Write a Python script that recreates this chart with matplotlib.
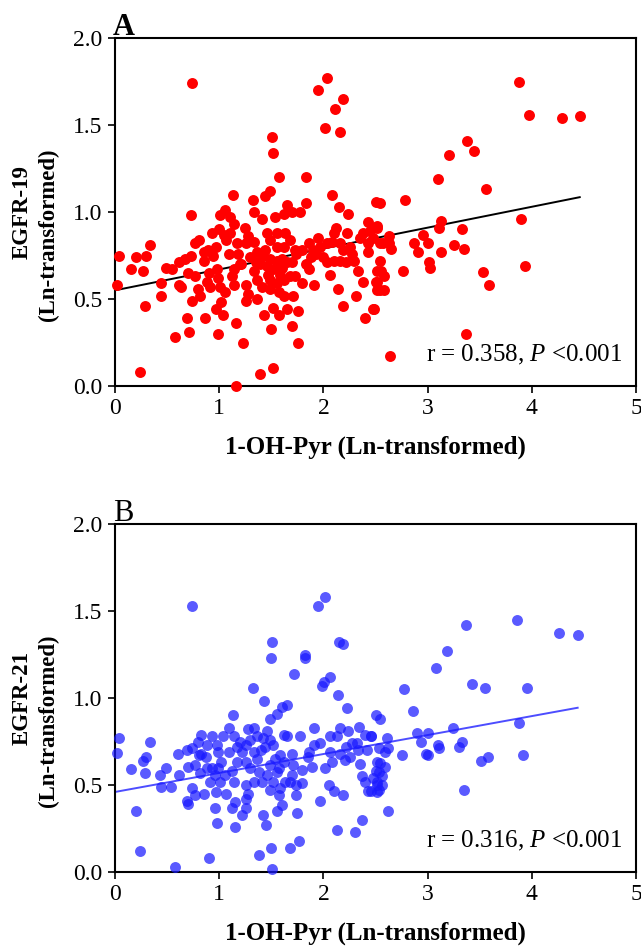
import numpy as np
import matplotlib
matplotlib.use("Agg")
import matplotlib.pyplot as plt

plt.rcParams['font.family'] = ['Liberation Serif', 'DejaVu Serif']
plt.rcParams['mathtext.fontset'] = 'custom'
plt.rcParams['mathtext.rm'] = 'Liberation Serif'
plt.rcParams['mathtext.it'] = 'Liberation Serif:italic'

# panel A: 1-OH-Pyr vs EGFR-19 (both ln-transformed)
egfr19_x = [0.74, 2.03, 1.95, 2.19, 2.11, 2.02, 2.16, 1.51, 1.52, 1.57, 1.83, 1.13, 1.32, 1.44, 1.49,
            2.08, 1.65, 1.83, 2.50, 2.15, 3.88, 3.97, 4.29, 4.46, 3.38, 3.45, 3.21, 3.10, 3.56, 2.54,
            2.78, 3.90, 3.93, 3.53, 3.59, 3.37, 2.64, 3.13, 3.11, 3.33, 2.96, 2.87, 2.91, 3.00, 3.25,
            3.35, 3.13, 3.01, 3.02, 2.76, 2.63, 2.63, 2.65, 2.57, 2.54, 2.54, 2.55, 2.58, 2.50, 2.54,
            2.58, 2.49, 2.51, 2.45,
            0.04, 0.02, 0.20, 0.30, 0.34, 0.15, 0.27, 0.29, 0.24, 0.44, 0.44, 0.49, 0.55, 0.61, 0.61,
            0.58, 0.71, 0.69, 0.74, 0.73, 0.70, 0.67, 0.73, 0.77, 0.81, 0.77, 0.80, 0.82, 0.86, 0.85,
            0.85, 0.89, 0.94, 0.97, 0.90, 0.98, 0.99, 0.88, 0.91, 0.99, 0.97, 1.04, 1.02, 1.01, 1.06,
            1.10, 1.14, 1.07, 1.09, 1.17, 1.18, 1.14, 1.12, 1.01, 1.06, 1.14, 1.16, 1.23, 1.16, 1.25,
            1.33, 1.41, 1.28, 1.26, 1.33, 1.36, 1.30, 1.26, 1.28, 1.26, 1.36, 1.33, 1.36, 1.41, 1.43,
            1.50, 1.39, 1.52, 1.52, 1.57, 1.65, 1.54, 1.62, 1.70, 1.78, 1.46, 1.49, 1.55, 1.63, 1.68,
            1.62, 1.55, 1.42, 1.49, 1.55, 1.60, 1.65, 1.70, 1.74, 1.79, 1.73, 1.46, 1.52, 1.58, 1.49,
            1.55, 1.62, 1.68, 1.73, 1.79, 1.49, 1.57, 1.62, 1.71, 1.70, 1.76, 1.76, 1.86, 1.91, 1.90,
            1.97, 2.03, 2.08, 2.24, 2.10, 2.12, 2.23, 2.16, 2.19, 2.26, 2.29, 2.22, 2.16, 2.10, 2.03,
            2.06, 2.14, 2.19, 2.31, 2.38, 2.40, 2.48, 2.43, 2.51, 2.38, 2.35, 2.43, 2.48, 2.43, 2.51,
            2.51, 2.51, 0.93, 1.00, 1.21, 1.39, 1.44, 1.83, 1.95, 2.00, 2.33, 0.63, 1.05, 1.88,
            1.10, 1.20, 1.35, 1.86, 1.93, 2.27, 1.47, 1.60]
egfr19_y = [1.74, 1.77, 1.70, 1.65, 1.59, 1.48, 1.46, 1.43, 1.34, 1.20, 1.20, 1.10, 1.07, 1.09, 1.12,
            1.10, 1.04, 1.05, 1.06, 1.03, 1.75, 1.56, 1.54, 1.55, 1.41, 1.35, 1.33, 1.19, 1.13, 1.05,
            1.07, 0.96, 0.69, 0.655, 0.58, 0.30, 0.17, 0.95, 0.91, 0.90, 0.87, 0.82, 0.77, 0.82, 0.81,
            0.79, 0.77, 0.71, 0.68, 0.66, 0.86, 0.82, 0.79, 0.82, 0.82, 0.72, 0.66, 0.63, 0.60, 0.55,
            0.55, 0.44, 0.92, 0.89,
            0.75, 0.58, 0.74, 0.75, 0.81, 0.67, 0.66, 0.46, 0.08, 0.59, 0.52, 0.68, 0.67, 0.71, 0.58,
            0.28, 0.31, 0.39, 0.49, 0.98, 0.65, 0.73, 0.75, 0.82, 0.84, 0.63, 0.56, 0.52, 0.39, 0.77,
            0.72, 0.78, 0.75, 0.80, 0.65, 0.67, 0.62, 0.60, 0.57, 0.30, 0.44, 0.41, 0.48, 0.98, 1.01,
            0.97, 0.93, 0.84, 0.76, 0.82, 0.76, 0.67, 0.63, 0.57, 0.54, 0.58, 0.36, 0.25, 0.00, 0.91,
            1.00, 0.96, 0.86, 0.82, 0.83, 0.77, 0.74, 0.58, 0.53, 0.49, 0.50, 0.66, 0.61, 0.57, 0.41,
            0.33, 0.07, 0.105, 0.45, 0.41, 0.44, 0.97, 0.99, 1.00, 1.00, 0.88, 0.84, 0.88, 0.88, 0.84,
            0.80, 0.80, 0.75, 0.73, 0.72, 0.73, 0.71, 0.71, 0.76, 0.78, 0.78, 0.69, 0.67, 0.64, 0.61,
            0.59, 0.61, 0.63, 0.63, 0.59, 0.56, 0.54, 0.52, 0.52, 0.345, 0.43, 0.25, 0.67, 0.58, 0.78,
            0.80, 0.82, 0.83, 0.99, 0.88, 0.91, 0.88, 0.82, 0.78, 0.80, 0.72, 0.71, 0.72, 0.72, 0.71,
            0.64, 0.56, 0.46, 0.52, 0.60, 0.39, 0.44, 0.94, 0.91, 0.88, 0.85, 0.82, 0.85, 0.77, 0.66,
            0.60, 0.55, 0.88, 0.90, 0.70, 0.70, 0.78, 0.70, 0.85, 0.74, 0.66, 0.57, 0.87, 0.74,
            0.88, 0.70, 0.71, 0.82, 0.76, 0.76, 0.64, 0.68]

# panel B: 1-OH-Pyr vs EGFR-21
egfr21_x = [0.74, 2.02, 1.95, 1.51, 1.50, 1.82, 1.82, 2.15, 2.19, 1.72, 2.06, 2.01, 1.32, 2.14,
            3.86, 3.37, 4.26, 4.44, 3.19, 3.08, 2.77, 3.43, 3.55, 3.95,
            2.86, 3.88, 3.24, 2.90, 3.00, 2.94, 3.10, 3.11, 3.33, 3.30, 2.98, 3.00, 2.75, 3.51, 3.58,
            3.92, 3.35, 2.62, 2.50, 2.54, 2.46, 2.61, 2.62, 2.59, 2.53, 2.54, 2.59, 2.50, 2.56, 2.51,
            2.56, 2.53, 2.46,
            0.04, 0.02, 0.15, 0.34, 0.27, 0.30, 0.29, 0.20, 0.24, 0.43, 0.44, 0.49, 0.54, 0.61, 0.60,
            0.69, 0.74, 0.70, 0.77, 0.81, 0.83, 0.80, 0.83, 0.88, 0.93, 0.98, 0.99, 1.04, 1.09, 1.14,
            1.13, 0.74, 0.69, 0.70, 0.77, 0.85, 0.82, 0.88, 0.91, 0.96, 1.01, 1.06, 0.99, 0.93, 0.97,
            1.07, 1.14, 1.12, 0.96, 0.98, 1.12, 1.15, 1.22, 1.15, 0.58, 0.90, 1.09, 1.17, 1.17, 1.22,
            1.26, 1.33, 1.28, 1.33, 1.36, 1.42, 1.46, 1.49, 1.52, 1.62, 1.65, 1.65, 1.60, 1.55, 1.49,
            1.43, 1.26, 1.30, 1.36, 1.38, 1.33, 1.26, 1.28, 1.26, 1.26, 1.41, 1.46, 1.49, 1.54, 1.58,
            1.62, 1.55, 1.52, 1.58, 1.63, 1.70, 1.71, 1.68, 1.74, 1.79, 1.79, 1.49, 1.57, 1.74, 1.60,
            1.55, 1.42, 1.45, 1.75, 1.38, 1.50, 1.51, 1.68, 1.77, 1.78, 1.91, 1.91, 1.97, 1.89, 2.02,
            1.97, 2.05, 2.10, 2.19, 2.06, 2.13, 2.16, 2.24, 2.06, 2.08, 2.16, 2.22, 2.26, 2.21, 2.27,
            2.23, 1.99, 2.13, 2.30, 2.37, 2.34, 2.40, 2.46, 2.42, 2.33, 2.32, 2.37, 2.40, 2.48, 2.43,
            2.51, 2.51, 2.51, 2.53, 1.40, 1.70, 1.85, 2.35, 1.20,
            1.30, 1.44, 1.57, 1.02, 0.87, 1.86]
egfr21_y = [1.53, 1.58, 1.53, 1.32, 1.23, 1.25, 1.23, 1.32, 1.31, 1.14, 1.12, 1.09, 1.06, 1.02,
            1.45, 1.42, 1.375, 1.36, 1.27, 1.17, 1.05, 1.08, 1.06, 1.06,
            0.925, 0.855, 0.83, 0.80, 0.80, 0.745, 0.73, 0.71, 0.75, 0.72, 0.68, 0.67, 0.67, 0.64, 0.66,
            0.67, 0.47, 0.35, 0.90, 0.88, 0.78, 0.77, 0.71, 0.69, 0.71, 0.625, 0.605, 0.58, 0.55, 0.52,
            0.50, 0.47, 0.465,
            0.77, 0.685, 0.59, 0.745, 0.64, 0.66, 0.57, 0.35, 0.12, 0.56, 0.49, 0.60, 0.49, 0.56, 0.68,
            0.70, 0.71, 0.605, 0.615, 0.67, 0.68, 0.75, 0.79, 0.73, 0.78, 0.73, 0.69, 0.78, 0.825, 0.78,
            0.90, 0.48, 0.41, 0.39, 0.44, 0.45, 0.57, 0.60, 0.52, 0.56, 0.52, 0.56, 0.60, 0.60, 0.46,
            0.45, 0.52, 0.58, 0.37, 0.28, 0.37, 0.40, 0.33, 0.26, 0.03, 0.08, 0.69, 0.72, 0.63, 0.69,
            0.73, 0.69, 0.82, 0.825, 0.78, 0.77, 0.81, 0.76, 0.73, 0.79, 0.78, 0.96, 0.95, 0.91, 0.88,
            0.98, 0.63, 0.60, 0.65, 0.575, 0.52, 0.50, 0.45, 0.42, 0.37, 0.52, 0.56, 0.615, 0.65, 0.67,
            0.63, 0.575, 0.52, 0.48, 0.52, 0.56, 0.615, 0.52, 0.50, 0.585, 0.51, 0.47, 0.44, 0.44, 0.385,
            0.35, 0.33, 0.27, 0.34, 0.10, 0.14, 0.02, 0.14, 0.18, 0.78, 0.83, 0.73, 0.74, 0.605, 0.60,
            0.41, 0.50, 0.465, 0.44, 0.78, 0.78, 0.825, 0.81, 0.69, 0.635, 0.68, 0.72, 0.66, 0.645, 0.74,
            0.945, 1.07, 0.24, 0.23, 0.30, 0.835, 0.79, 0.78, 0.70, 0.70, 0.74, 0.55, 0.52, 0.54, 0.465,
            0.46, 0.50, 0.63, 0.575, 0.70, 0.68, 0.66, 0.62, 0.75,
            0.76, 0.72, 0.60, 0.63, 0.66, 0.69]

# reported regression lines: intercept, slope
fit_19 = (0.55, 0.120)
fit_21 = (0.46, 0.109)
stats_19 = "r = 0.358, $\\mathit{P}$ <0.001"
stats_21 = "r = 0.316, $\\mathit{P}$ <0.001"

W, H = 641, 948
fig = plt.figure(figsize=(W / 100, H / 100), dpi=100)


def panel(top_px, xs, ys, fit, stats, ylab, letter, letter_bold, color, alpha, line_color):
    left, right, bottom = 115, 636, top_px + 348
    ax = fig.add_axes([left / W, 1 - bottom / H, (right - left) / W, 348 / H])
    ax.scatter(xs, ys, s=62, color=color, alpha=alpha, linewidths=0, clip_on=False, zorder=3)
    xline = np.array([0, max(xs)])
    ax.plot(xline, fit[0] + fit[1] * xline, color=line_color, lw=1.4, zorder=2)
    ax.set_xlim(0, 5)
    ax.set_ylim(0, 2)
    ax.set_xticks([0, 1, 2, 3, 4, 5])
    ax.set_yticks([0, 0.5, 1.0, 1.5, 2.0])
    ax.set_yticklabels(["0.0", "0.5", "1.0", "1.5", "2.0"])
    ax.tick_params(direction='out', length=5, width=1.2, labelsize=17, pad=4)
    for sp in ax.spines.values():
        sp.set_linewidth(1.5)
    ax.text(0.973, 0.089, stats, transform=ax.transAxes, ha='right', va='center', fontsize=18)
    ax.set_xlabel("1-OH-Pyr (Ln-transformed)", fontsize=18, fontweight='bold')
    ax.xaxis.set_label_coords(0.5, -61 / 348)
    ax.xaxis.label.set_va('center')
    # two-line y label, each line placed on its own
    fig.text(22 / W, 1 - (top_px + 174) / H, ylab, rotation=90, ha='center', va='center',
             fontsize=16.5, fontweight='bold')
    fig.text(48 / W, 1 - (top_px + 197) / H, "(Ln-transformed)", rotation=90, ha='center',
             va='center', fontsize=16.5, fontweight='bold')
    fig.text(113 / W, 1 - (top_px - 3) / H, letter, ha='left', va='baseline', fontsize=22,
             fontweight='bold' if letter_bold else 'normal')
    return ax


panel(38, egfr19_x, egfr19_y, fit_19, stats_19, "EGFR-19", "A", True,
      '#ff0000', 1.0, 'black')
panel(524, egfr21_x, egfr21_y, fit_21, stats_21, "EGFR-21", "B", False,
      '#1a1aff', 0.72, '#4d4dff')

fig.savefig("out.png", dpi=100)
